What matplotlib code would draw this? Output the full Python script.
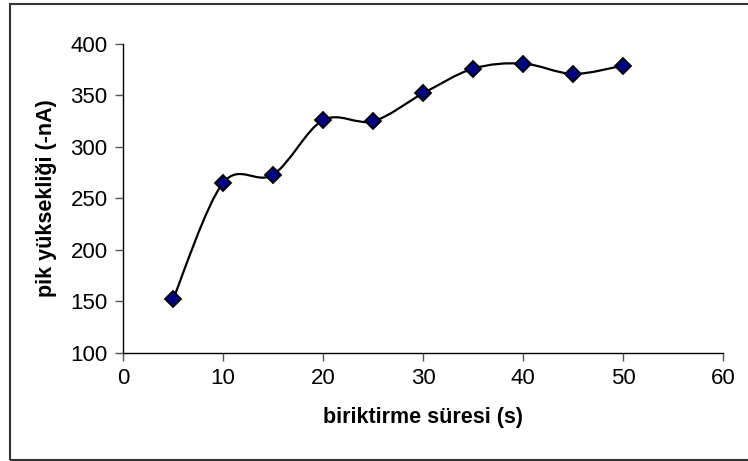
import numpy as np
import matplotlib
matplotlib.use('Agg')
import matplotlib.pyplot as plt
from matplotlib.path import Path
from matplotlib.patches import PathPatch, Rectangle

plt.rcParams['font.family'] = ['Liberation Sans', 'DejaVu Sans']

# accumulation time (s) vs peak height (-nA)
sure = [5, 10, 15, 20, 25, 30, 35, 40, 45, 50]
pik = [152, 265, 273, 326, 325, 352, 376, 381, 371, 379]
x_ticks = [0, 10, 20, 30, 40, 50, 60]
y_ticks = [100, 150, 200, 250, 300, 350, 400]


def smooth_path(xs, ys):
    # Excel-style smoothed line: cubic Bezier segments through every point
    pts = np.column_stack([xs, ys]).astype(float)
    ext = np.vstack([pts[0], pts, pts[-1]])
    verts = [tuple(pts[0])]
    codes = [Path.MOVETO]
    for i in range(1, len(ext) - 2):
        p0, p1, p2, p3 = ext[i - 1], ext[i], ext[i + 1], ext[i + 2]
        c1 = p1 + (p2 - p0) / 6.0
        c2 = p2 - (p3 - p1) / 6.0
        verts += [tuple(c1), tuple(c2), tuple(p2)]
        codes += [Path.CURVE4] * 3
    return Path(verts, codes)


fig = plt.figure(figsize=(7.48, 4.61), dpi=100)
ax = fig.add_axes([0.1644, 0.2343, 0.8022, 0.6703])

ax.add_patch(PathPatch(smooth_path(sure, pik), fill=False, color='black',
                       lw=1.6, zorder=2))
ax.plot(sure, pik, linestyle='none', marker='D', ms=8, mfc='#000080',
        mec='black', mew=1.3, zorder=3)

ax.set_xlim(0, 60)
ax.set_ylim(100, 400)
ax.set_xticks(x_ticks)
ax.set_yticks(y_ticks)
ax.tick_params(labelsize=16, length=6, width=1, color='#555555', pad=5)
for s in ['top', 'right']:
    ax.spines[s].set_visible(False)
for s in ['left', 'bottom']:
    ax.spines[s].set_linewidth(1)

ax.set_xlabel('biriktirme süresi (s)', fontsize=15.5, fontweight='bold', labelpad=13)
ax.set_ylabel('pik yüksekliği (-nA)', fontsize=15.5, fontweight='bold', labelpad=10)

# outer chart frame
fig.patches.append(Rectangle((10 / 748, 1 / 461), 740 / 748, 456 / 461,
                             transform=fig.transFigure, fill=False,
                             edgecolor='#333333', lw=1.5))

fig.savefig('out.png', dpi=100)
